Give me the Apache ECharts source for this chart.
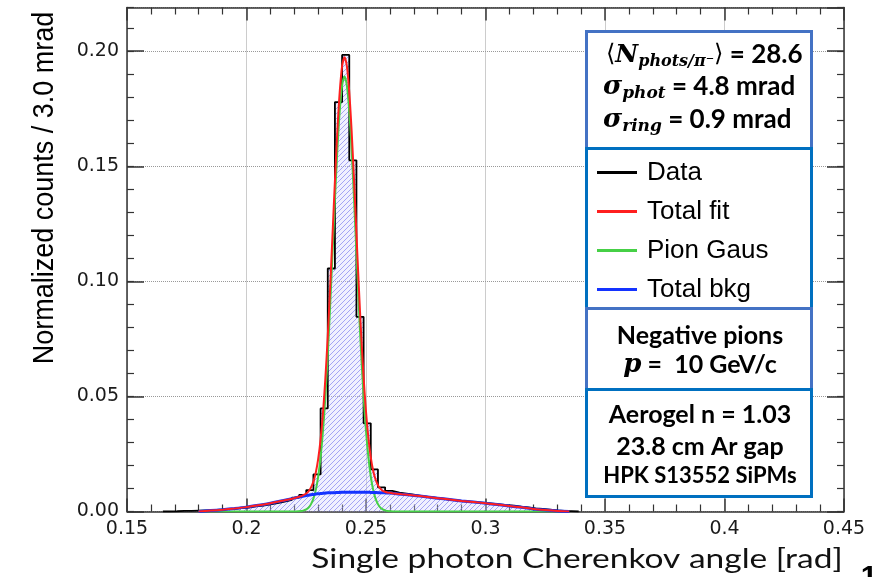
<!DOCTYPE html>
<html><head><meta charset="utf-8">
<script src="https://cdn.jsdelivr.net/npm/echarts@6/dist/echarts.min.js"></script>
<style>html,body{margin:0;padding:0;background:#fff}#c{width:884px;height:577px}</style>
</head><body><div id="c"></div>
<script>
// ---- data ----
const binWidth = 0.003;
const binLeft = [0.165,0.168,0.171,0.174,0.177,
  0.180,0.183,0.186,0.189,0.192,0.195,0.198,
  0.201,0.204,0.207,0.210,0.213,0.216,0.219,
  0.222,0.225,0.228,0.231,0.234,0.237,0.240,0.243,0.246,0.249,
  0.252,0.255,0.258,0.261,0.264,0.267,0.270,0.273,0.276,0.279,
  0.282,0.285,0.288,0.291,0.294,0.297,0.300,0.303,0.306,0.309,
  0.312,0.315,0.318,0.321,0.324,0.327,0.330,0.333,0.336];
const counts = [0,0.0001,0.0003,0.0003,0.0004,
  0.0005,0.0006,0.0008,0.0010,0.0012,0.0015,0.0017,
  0.0022,0.0026,0.0031,0.0036,0.0043,0.0050,0.0060,
  0.0072,0.0093,0.0161,0.0448,0.1056,0.1779,0.1984,0.1526,0.0846,0.0383,
  0.0183,0.0105,0.0090,0.0082,0.0078,0.0073,0.0068,0.0063,0.0060,0.0056,
  0.0052,0.0048,0.0045,0.0042,0.0040,0.0037,0.0034,0.0031,0.0028,0.0025,
  0.0021,0.0018,0.0014,0.0011,0.0008,0.0005,0.0003,0.0002,0];

const fitX = [0.180,0.185,0.190,0.195,0.200,0.205,0.210,0.215,0.220,
  0.222,0.223,0.224,0.225,0.226,0.227,0.228,0.229,0.230,0.231,0.232,0.233,0.234,0.235,0.236,0.237,0.238,0.239,
  0.240,0.241,0.242,0.243,0.244,0.245,0.246,0.247,0.248,0.249,0.250,0.251,
  0.252,0.253,0.254,0.255,0.256,0.257,0.258,0.259,0.260,
  0.262,0.265,0.270,0.275,0.280,0.285,0.290,0.295,0.300,0.305,0.310,0.315,0.320,0.325,0.330,0.335];
const fitPion = [0,0,0,0,0,0,0,0,0,
  0.0001,0.0002,0.0005,0.0009,0.0017,0.0032,0.0056,0.0094,0.0152,0.0236,0.0350,0.0499,0.0681,0.0893,0.1123,0.1355,0.1567,0.1739,
  0.1851,0.1890,0.1851,0.1739,0.1567,0.1355,0.1123,0.0893,0.0681,0.0499,0.0350,0.0236,
  0.0152,0.0094,0.0056,0.0032,0.0017,0.0009,0.0005,0.0002,0.0001,
  0,0,0,0,0,0,0,0,0,0,0,0,0,0,0,0];
const fitBkg = [0,0.0004,0.0008,0.0013,0.0019,0.0027,0.0036,0.0047,0.0058,
  0.0063,0.0065,0.0067,0.0069,0.0071,0.0073,0.0074,0.0076,0.0077,0.0078,0.0079,0.0080,0.0081,0.0081,0.0082,0.0082,0.0083,0.0083,
  0.0084,0.0084,0.0084,0.0084,0.0084,0.0084,0.0084,0.0084,0.0084,0.0084,0.0084,0.0084,
  0.0083,0.0083,0.0083,0.0082,0.0082,0.0081,0.0081,0.0080,0.0080,
  0.0078,0.0075,0.0070,0.0064,0.0058,0.0052,0.0046,0.0041,0.0036,0.0030,0.0024,0.0018,0.0011,0.0006,0.0002,0];
const fitTotal = [0,0.0004,0.0008,0.0013,0.0019,0.0027,0.0036,0.0047,0.0058,
  0.0064,0.0067,0.0072,0.0078,0.0088,0.0105,0.0130,0.0170,0.0229,0.0314,0.0429,0.0579,0.0762,0.0974,0.1205,0.1437,0.1650,0.1822,
  0.1935,0.1974,0.1935,0.1823,0.1651,0.1439,0.1207,0.0977,0.0765,0.0583,0.0434,0.0320,
  0.0235,0.0177,0.0139,0.0114,0.0099,0.0090,0.0086,0.0082,0.0081,
  0.0078,0.0075,0.0070,0.0064,0.0058,0.0052,0.0046,0.0041,0.0036,0.0030,0.0024,0.0018,0.0011,0.0006,0.0002,0];

const legendNames = ['Data','Total fit','Pion Gaus','Total bkg'];
const xRange = [0.15, 0.45];
const yRange = [0, 0.219];

// ---- helpers ----
function hatch(){
  const c = document.createElement('canvas'); c.width = 5; c.height = 5;
  const g = c.getContext('2d');
  g.fillStyle = 'rgba(215,215,255,0.35)'; g.fillRect(0,0,5,5);
  g.strokeStyle = 'rgba(120,120,238,0.62)'; g.lineWidth = 1;
  g.beginPath();
  g.moveTo(-1,6); g.lineTo(6,-1);
  g.moveTo(-3,3); g.lineTo(3,-3);
  g.moveTo(2,8); g.lineTo(8,2);
  g.stroke();
  return c;
}
const histData = binLeft.map((x,i)=>[x, counts[i]]);
histData.push([binLeft[binLeft.length-1] + binWidth, 0]);
const pair = arr => fitX.map((x,i)=>[x, arr[i]]);

const axCol = '#333';
const tickFont = {fontFamily:'DejaVu Sans', fontSize:19, color:'#1a1a1a'};
function xAx(pos, labels){
  return {type:'value', min:xRange[0], max:xRange[1], interval:0.05, position:pos,
    axisLine:{show:true, onZero:false, lineStyle:{color:axCol, width:1.5}},
    axisTick:{show:true, inside:true, length:13, lineStyle:{color:axCol, width:1.5}},
    minorTick:{show:true, splitNumber:5, length:7, lineStyle:{color:axCol, width:1.2}},
    splitLine:{show:labels, lineStyle:{color:'#999', type:'dotted', width:1}},
    axisLabel:Object.assign({show:labels, margin:8, formatter:v=>String(+(+v).toFixed(2))}, tickFont)};
}
function yMajor(pos, labels){
  return {type:'value', min:yRange[0], max:yRange[1], interval:0.05, position:pos,
    axisLine:{show:true, onZero:false, lineStyle:{color:axCol, width:1.5}},
    axisTick:{show:true, inside:true, length:17, lineStyle:{color:axCol, width:1.5}},
    splitLine:{show:labels, lineStyle:{color:'#999', type:'dotted', width:1}},
    axisLabel:Object.assign({show:labels, margin:8, showMaxLabel:false,
      formatter:v=>Math.abs(v/0.05-Math.round(v/0.05))<1e-6 ? (+v).toFixed(2) : ''}, tickFont)};
}
function yMinor(pos){
  return {type:'value', min:yRange[0], max:yRange[1], interval:0.01, position:pos,
    axisLine:{show:false, onZero:false}, splitLine:{show:false}, axisLabel:{show:false},
    axisTick:{show:true, inside:true, length:7, lineStyle:{color:axCol, width:1.2}}};
}

const chart = echarts.init(document.getElementById('c'), null, {renderer:'canvas'});
const boldL = {fontFamily:'Lato', fontWeight:'bold', fontSize:25, fill:'#000'};
const serifBI = {fontFamily:'DejaVu Serif', fontStyle:'italic', fontWeight:'bold'};
chart.setOption({
  animation:false,
  backgroundColor:'#fff',
  grid:{left:127, right:40, top:7.5, bottom:65.5, containLabel:false},
  xAxis:[xAx('bottom', true), xAx('top', false)],
  yAxis:[yMajor('left', true), yMajor('right', false), yMinor('left'), yMinor('right')],
  legend:{orient:'vertical', left:597, top:159, padding:0, itemWidth:40, itemHeight:3, itemGap:12,
    icon:'rect', selectedMode:false, z:20, data:legendNames,
    textStyle:{fontFamily:'Liberation Sans', fontSize:26, color:'#000', lineHeight:27, padding:[0,0,0,5]}},
  series:[
    {name:'Data', type:'line', step:'end', data:histData, symbol:'none', color:'#000', z:2,
      lineStyle:{color:'#000', width:1.8}, areaStyle:{color:{image:hatch(), repeat:'repeat'}, opacity:1}},
    {name:'Pion Gaus', type:'line', data:pair(fitPion), symbol:'none', smooth:0.3, color:'#46d046', z:3,
      lineStyle:{color:'#46d046', width:2}},
    {name:'Total bkg', type:'line', data:pair(fitBkg), symbol:'none', smooth:0.3, color:'#1433ff', z:4,
      lineStyle:{color:'#1433ff', width:3}},
    {name:'Total fit', type:'line', data:pair(fitTotal), symbol:'none', smooth:0.3, color:'#ff1f1f', z:5,
      lineStyle:{color:'#ff1f1f', width:2}}
  ],
  graphic:{elements:[
    {type:'rect', shape:{x:586.5,y:31.5,width:225,height:117}, style:{fill:'#fff', stroke:'#4472C4', lineWidth:3}, z:10},
    {type:'rect', shape:{x:586.5,y:148.5,width:225,height:160}, style:{fill:'#fff', stroke:'#0070C0', lineWidth:3}, z:10},
    {type:'rect', shape:{x:586.5,y:308.5,width:225,height:81}, style:{fill:'#fff', stroke:'#4472C4', lineWidth:3}, z:10},
    {type:'rect', shape:{x:586.5,y:389.5,width:225,height:107}, style:{fill:'#fff', stroke:'#0070C0', lineWidth:3}, z:10},
    {type:'text', x:606, y:55, z:11, style:{text:'{a|⟨}{m|N}{s|phots/π⁻}{a|⟩}{b| = 28.6}', align:'left', verticalAlign:'middle',
      rich:{a:{fontFamily:'DejaVu Serif', fontSize:24, lineHeight:30},
            m:Object.assign({fontSize:25, lineHeight:30}, serifBI),
            s:Object.assign({fontSize:16, lineHeight:17, verticalAlign:'bottom'}, serifBI),
            b:{fontFamily:'Lato', fontWeight:'bold', fontSize:26, lineHeight:30}}}},
    {type:'text', x:603, y:87, z:11, style:{text:'{m|σ}{s|phot}{b| = 4.8 mrad}', align:'left', verticalAlign:'middle',
      rich:{m:Object.assign({fontSize:26, lineHeight:30}, serifBI),
            s:Object.assign({fontSize:17, lineHeight:17, verticalAlign:'bottom'}, serifBI),
            b:{fontFamily:'Lato', fontWeight:'bold', fontSize:26, lineHeight:30}}}},
    {type:'text', x:603, y:120, z:11, style:{text:'{m|σ}{s|ring}{b| = 0.9 mrad}', align:'left', verticalAlign:'middle',
      rich:{m:Object.assign({fontSize:26, lineHeight:30}, serifBI),
            s:Object.assign({fontSize:17, lineHeight:17, verticalAlign:'bottom'}, serifBI),
            b:{fontFamily:'Lato', fontWeight:'bold', fontSize:26, lineHeight:30}}}},
    {type:'text', x:700, y:336, z:11, style:Object.assign({text:'Negative pions', align:'center', verticalAlign:'middle'}, boldL)},
    {type:'text', x:700, y:365, z:11, style:{text:'{p|p}{b| =  10 GeV/c}', align:'center', verticalAlign:'middle',
      rich:{p:Object.assign({fontSize:26, lineHeight:30}, serifBI), b:{fontFamily:'Lato', fontWeight:'bold', fontSize:25, lineHeight:30}}}},
    {type:'text', x:700, y:415, z:11, style:Object.assign({text:'Aerogel n = 1.03', align:'center', verticalAlign:'middle'}, boldL)},
    {type:'text', x:700, y:447, z:11, style:Object.assign({text:'23.8 cm Ar gap', align:'center', verticalAlign:'middle'}, boldL)},
    {type:'text', x:700, y:476, z:11, style:Object.assign({}, boldL, {text:'HPK S13552 SiPMs', fontSize:22, align:'center', verticalAlign:'middle'})},
    {type:'text', x:45, y:188, rotation:Math.PI/2, scaleY:1.1, z:11, style:{text:'Normalized counts / 3.0 mrad', fontFamily:'Liberation Sans', fontSize:27, fill:'#000', align:'center', verticalAlign:'middle'}},
    {type:'text', x:577, y:559, scaleX:1.24, z:11, style:{text:'Single photon Cherenkov angle [rad]', fontFamily:'Lato', fontSize:27, fill:'#111', align:'center', verticalAlign:'middle'}},
    {type:'text', x:869, y:578, z:11, style:{text:'1', fontFamily:'Liberation Sans', fontWeight:'bold', fontSize:30, fill:'#000', align:'center', verticalAlign:'middle'}}
  ]}
});
</script></body></html>
